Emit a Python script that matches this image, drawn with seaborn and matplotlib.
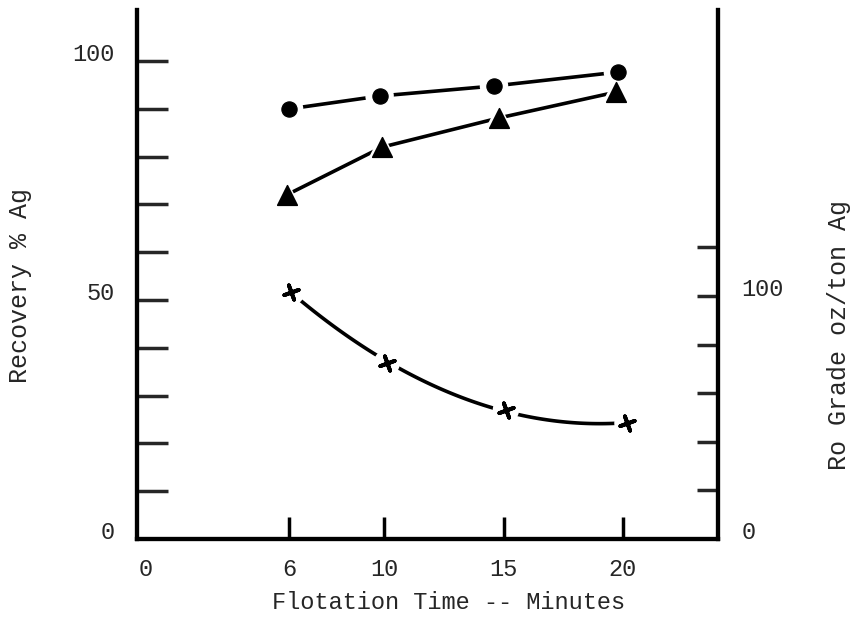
import numpy as np
import pandas as pd
import matplotlib
matplotlib.use("Agg")
import matplotlib.pyplot as plt
import seaborn as sns

# ---- data ----
time_rec = [6.0, 9.8, 14.6, 19.8]          # minutes (circles)
recovery_circle = [90.0, 92.7, 94.8, 97.7]  # Recovery % Ag
time_tri = [5.9, 9.9, 14.8, 19.7]           # minutes (triangles)
recovery_tri = [72.0, 82.0, 88.1, 93.5]     # Recovery % Ag
time_grade = [6.1, 10.1, 15.1, 20.2]        # minutes (crosses)
grade = [101.6, 72.4, 53.1, 47.7]           # Ro Grade oz/ton Ag (right axis)

x_ticks = [0, 6, 10, 15, 20]
left_major = [0, 50, 100]
left_minor = [10, 20, 30, 40, 60, 70, 80, 90]
right_major = [0, 100]
right_minor = [20, 40, 60, 80, 120]

sns.set_style("white")
plt.rcParams["font.family"] = ["Liberation Mono", "DejaVu Sans"]

fig = plt.figure(figsize=(8.58, 6.19), dpi=100)
ax = fig.add_axes([137 / 858, 80 / 619, 581 / 858, 529 / 619])
ax2 = ax.twinx()

ax.set_xlim(-0.38, 24.0)
ax.set_ylim(0, 110.7)
ax2.set_ylim(0, 217.7)

df_c = pd.DataFrame({"t": time_rec, "v": recovery_circle})
df_t = pd.DataFrame({"t": time_tri, "v": recovery_tri})
df_g = pd.DataFrame({"t": time_grade, "v": grade})

lw = 2.6
sns.lineplot(data=df_c, x="t", y="v", ax=ax, color="black", lw=lw, sort=True)
sns.lineplot(data=df_t, x="t", y="v", ax=ax, color="black", lw=lw, sort=True)

# smooth hand-drawn curve through the grade points
coef = np.polyfit(time_grade, grade, 2)
xs = np.linspace(time_grade[0], time_grade[-1] - 0.5, 100)
sns.lineplot(x=xs, y=np.polyval(coef, xs), ax=ax2, color="black", lw=lw)

# white halos to give the gaps near markers
sns.scatterplot(data=df_c, x="t", y="v", ax=ax, color="white", s=420, marker="o",
                edgecolor="none", zorder=3)
sns.scatterplot(data=df_t, x="t", y="v", ax=ax, color="white", s=520, marker="^",
                edgecolor="none", zorder=3)
sns.scatterplot(data=df_g, x="t", y="v", ax=ax2, color="white", s=360, marker="o",
                edgecolor="none", zorder=3)

sns.scatterplot(data=df_c, x="t", y="v", ax=ax, color="black", s=120, marker="o",
                edgecolor="black", zorder=4)
sns.scatterplot(data=df_t, x="t", y="v", ax=ax, color="black", s=200, marker="^",
                edgecolor="black", zorder=4)
sns.scatterplot(data=df_g, x="t", y="v", ax=ax2, color="black", s=120,
                marker=(4, 2, 20), linewidth=2.8, edgecolor="black", zorder=4)

for a in (ax, ax2):
    a.set_xlabel("")
    a.set_ylabel("")
    a.spines["top"].set_visible(False)
    for s in ("left", "right", "bottom"):
        a.spines[s].set_linewidth(3.0)
        a.spines[s].set_color("black")

ax.spines["right"].set_visible(True)

# x axis ticks pointing up inside
ax.set_xticks(x_ticks)
ax.set_xticklabels([str(v) for v in x_ticks])
ax.tick_params(axis="x", direction="in", length=16, width=2.5, pad=14,
               labelsize=17, color="black", bottom=True)
ax.xaxis.get_major_ticks()[0].tick1line.set_visible(False)

# left axis
ax.set_yticks(left_major)
ax.set_yticklabels([str(v) for v in left_major])
ax.set_yticks(left_minor, minor=True)
ax.tick_params(axis="y", which="both", direction="in", length=22, width=2.5,
               pad=16, labelsize=17, left=True)
ax.yaxis.get_major_ticks()[0].tick1line.set_visible(False)

# right axis
ax2.set_yticks(right_major)
ax2.set_yticklabels([str(v) for v in right_major])
ax2.set_yticks(right_minor, minor=True)
ax2.tick_params(axis="y", which="both", direction="in", length=15, width=2.5,
                pad=17, labelsize=17, right=True)
ax2.yaxis.get_major_ticks()[0].tick2line.set_visible(False)

for lab in ax.get_yticklabels():
    lab.set_verticalalignment("baseline")
for lab in ax2.get_yticklabels():
    lab.set_verticalalignment("baseline")

ax.set_xlabel("Flotation Time -- Minutes", fontsize=17)
ax.xaxis.set_label_coords(0.537, -0.098)
ax.set_ylabel("Recovery % Ag", fontsize=18)
ax.yaxis.set_label_coords(-0.18, 0.48)
ax2.set_ylabel("Ro Grade oz/ton Ag", fontsize=18, rotation=90)
ax2.yaxis.set_label_coords(1.188, 0.386)

fig.savefig("out.png", dpi=100, facecolor="white")
